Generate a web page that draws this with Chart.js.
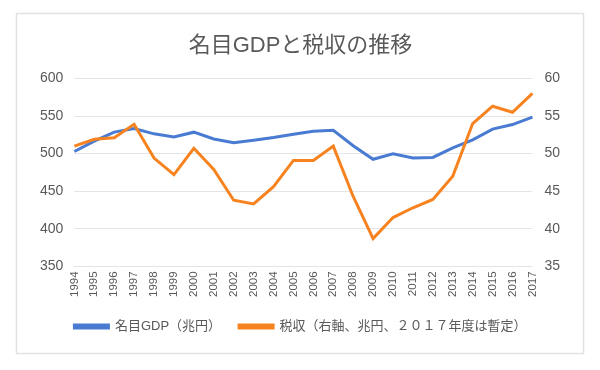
<!DOCTYPE html>
<html>
<head>
<meta charset="utf-8">
<script src="https://cdn.jsdelivr.net/npm/chart.js@4"></script>
<style>
  html, body { margin: 0; padding: 0; background: #fff; }
  #wrap { position: absolute; left: 0; top: 0; width: 600px; height: 370px; }
</style>
</head>
<body>
<div id="wrap"><canvas id="chart" width="600" height="370"></canvas></div>
<script>
// 年度
const years = ['1994', '1995', '1996', '1997', '1998', '1999', '2000', '2001', '2002', '2003', '2004', '2005',
  '2006', '2007', '2008', '2009', '2010', '2011', '2012', '2013', '2014', '2015', '2016', '2017'];
// 名目GDP（兆円）
const gdp = [502.8, 516.5, 528.6, 533.4, 526.3, 522.0, 528.5, 519.5, 514.5, 517.8, 521.4, 525.8,
  529.6, 531.0, 510.5, 492.5, 499.8, 494.2, 494.9, 507.5, 518.4, 532.6, 538.6, 548.5];
// 税収（兆円）
const zeishu = [51.0, 51.9, 52.1, 53.9, 49.4, 47.2, 50.7, 47.9, 43.8, 43.3, 45.6, 49.1,
  49.1, 51.0, 44.3, 38.7, 41.5, 42.8, 43.9, 47.0, 54.0, 56.3, 55.5, 58.0];

const leftTicks = [350, 400, 450, 500, 550, 600];
const rightTicks = [35, 40, 45, 50, 55, 60];

const FONT = "'Liberation Sans', 'Noto Sans CJK JP', sans-serif";
const GRAY = '#595959';

// 外枠
const frame = {
  id: 'frame',
  beforeDraw(chart) {
    const ctx = chart.ctx;
    ctx.save();
    ctx.fillStyle = '#fff';
    ctx.fillRect(0, 0, chart.width, chart.height);
    ctx.strokeStyle = '#e2e2e2';
    ctx.lineWidth = 1.5;
    ctx.strokeRect(16.5, 13.5, 567, 340);
    ctx.restore();
  }
};

new Chart(document.getElementById('chart'), {
  type: 'line',
  data: {
    labels: years,
    datasets: [
      {
        label: '名目GDP（兆円）',
        data: gdp,
        yAxisID: 'y',
        borderColor: '#4a7bd2',
        backgroundColor: '#4a7bd2',
        borderWidth: 3,
        pointRadius: 0,
        tension: 0,
        order: 1
      },
      {
        label: '税収（右軸、兆円、２０１７年度は暫定）',
        data: zeishu,
        yAxisID: 'y1',
        borderColor: '#f6831f',
        backgroundColor: '#f6831f',
        borderWidth: 3,
        pointRadius: 0,
        tension: 0,
        order: 0
      }
    ]
  },
  options: {
    responsive: false,
    animation: false,
    layout: { padding: { left: 29, right: 28, top: 22, bottom: 27 } },
    scales: {
      x: {
        grid: { display: false, drawTicks: false },
        border: { display: false },
        ticks: {
          color: GRAY,
          font: { family: FONT, size: 11.5 },
          minRotation: 90,
          maxRotation: 90,
          padding: 5,
          autoSkip: false
        }
      },
      y: {
        position: 'left',
        min: 350,
        max: 600,
        afterBuildTicks: function(axis) {
          axis.ticks = leftTicks.map(function(v) { return { value: v }; });
        },
        grid: { color: '#e4e4e4', lineWidth: 1, drawTicks: false },
        border: { display: false },
        ticks: { color: GRAY, font: { family: FONT, size: 14 }, padding: 11 }
      },
      y1: {
        position: 'right',
        min: 35,
        max: 60,
        afterBuildTicks: function(axis) {
          axis.ticks = rightTicks.map(function(v) { return { value: v }; });
        },
        grid: { display: false, drawTicks: false },
        border: { display: false },
        ticks: { color: GRAY, font: { family: FONT, size: 14 }, padding: 12 }
      }
    },
    plugins: {
      title: {
        display: true,
        text: '名目GDPと税収の推移',
        color: GRAY,
        font: { family: FONT, size: 22, weight: 'normal' },
        padding: { top: 11, bottom: 19 }
      },
      legend: {
        position: 'bottom',
        labels: {
          color: GRAY,
          font: { family: FONT, size: 13 },
          boxWidth: 34,
          boxHeight: 3,
          padding: 18,
          sort: function(a, b) { return a.datasetIndex - b.datasetIndex; }
        }
      },
      tooltip: { enabled: false }
    }
  },
  plugins: [frame]
});
</script>
</body>
</html>
